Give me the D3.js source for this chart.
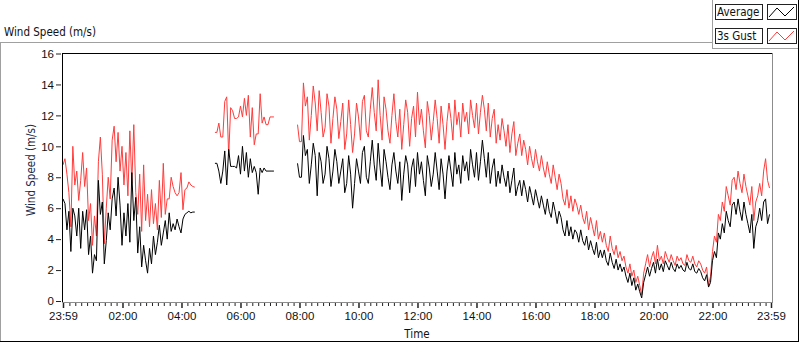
<!DOCTYPE html>
<html>
<head>
<meta charset="utf-8">
<script src="https://cdn.jsdelivr.net/npm/d3@7"></script>
<style>
  body { margin: 0; background: #fff; }
  svg { display: block; font-family: "DejaVu Sans Condensed", "Liberation Sans", sans-serif; }
</style>
</head>
<body>
<script>
// minutes after 23:59 of the previous day, 4-minute samples per segment
let seg1Start = 0, seg2Start = 309, seg3Start = 477;
let step = 4;

let gust1 = [8.8, 9.2, 8.2, 7.0, 4.8, 10.0, 7.5, 8.4, 6.5, 7.8,
    9.6, 7.4, 8.6, 5.2, 6.3, 3.6, 5.5, 4.2, 9.0, 10.6,
    8.2, 3.7, 6.0, 8.0, 6.6, 10.4, 11.3, 9.0, 10.9, 8.4,
    10.0, 7.5, 9.6, 6.8, 11.0, 7.6, 11.4, 7.0, 5.6, 8.2,
    4.5, 8.8, 5.2, 6.9, 4.8, 7.2, 5.0, 6.3, 4.6, 7.8,
    5.4, 8.9, 5.6, 6.6, 6.6, 8.0, 7.4, 7.0, 6.8, 7.0,
    8.3, 5.9, 7.2, 7.3, 7.7, 7.5, 7.4, 7.36];
let avg1 = [6.6, 6.3, 4.6, 5.8, 3.2, 6.0, 5.5, 4.2, 6.0, 3.4,
    5.8, 4.6, 5.9, 3.0, 4.2, 1.8, 3.0, 2.6, 7.8, 5.6,
    6.4, 2.4, 3.9, 5.7, 4.6, 6.6, 7.3, 5.5, 8.0, 6.2,
    3.6, 5.7, 4.2, 6.3, 3.8, 8.3, 5.2, 6.7, 3.1, 4.8,
    2.2, 3.6, 2.6, 1.8, 3.4, 2.4, 4.2, 3.0, 3.8, 4.9,
    3.6, 4.4, 5.2, 4.0, 5.7, 4.5, 5.0, 4.6, 5.3, 4.8,
    4.4, 5.3, 5.6, 5.7, 5.8, 5.7, 5.75, 5.75];

let gust2 = [10.9, 10.9, 11.5, 10.6, 10.6, 12.9, 13.2, 9.4, 12.5, 12.3,
    11.8, 11.8, 11.9, 12.6, 11.9, 13.1, 12.0, 13.3, 10.6, 12.5,
    10.1, 10.8, 10.8, 13.4, 11.5, 11.9, 11.4, 11.4, 11.9, 11.9, 11.9];
let avg2 = [8.9, 8.9, 8.4, 7.6, 8.4, 9.7, 7.5, 9.8, 8.7, 8.7,
    8.7, 8.6, 9.4, 8.2, 10.0, 8.4, 9.6, 8.0, 9.2, 8.3,
    8.7, 8.3, 6.9, 8.6, 8.3, 8.6, 8.4, 8.4, 8.4, 8.4, 8.4];

let gust3 = [11.4, 10.3, 10.3, 14.1, 12.6, 13.2, 10.4, 12.0, 13.9, 12.8, 11.0, 13.6,
    12.2, 10.6, 11.2, 13.4, 12.6, 10.2, 11.8, 13.2, 12.4, 10.5,
    11.6, 12.8, 9.8, 10.8, 13.0, 11.4, 9.6, 10.8, 12.8, 11.9,
    10.4, 12.9, 13.3, 11.0, 10.6, 12.4, 13.8, 12.2, 11.0, 14.3,
    12.0, 10.4, 13.2, 12.4, 11.0, 10.2, 12.0, 13.4, 11.6, 10.6, 12.4,
    9.8, 11.4, 13.0, 12.2, 10.0, 11.8, 12.6, 10.6, 13.5, 11.4,
    12.4, 11.0, 9.9, 12.9, 12.0, 10.4, 11.6, 13.0, 11.8, 10.2,
    12.6, 11.4, 9.8, 11.6, 12.8, 11.8, 10.4, 13.0, 11.4, 12.2,
    10.6, 12.8, 11.6, 12.2, 10.8, 13.0, 12.0, 11.2, 12.8, 10.8,
    12.2, 13.3, 12.4, 11.0, 12.8, 10.6, 11.8, 12.4, 10.2, 11.4, 10.4,
    11.8, 11.0, 10.0, 11.4, 9.6, 10.8, 11.6, 9.4, 10.2, 10.8,
    9.4, 10.4, 9.8, 8.8, 10.0, 9.2, 8.6, 9.8, 9.0, 8.4,
    9.4, 8.6, 8.0, 9.0, 8.2, 7.6, 8.8, 8.0, 7.2, 8.2,
    7.6, 6.6, 6.2, 7.2, 6.0, 6.8, 5.8, 6.6, 6.2, 5.6,
    6.2, 5.4, 5.0, 5.8, 4.6, 5.4, 4.8, 4.2, 5.2, 4.0, 4.5,
    3.8, 4.4, 3.6, 3.2, 4.2, 3.4, 3.0, 3.6, 2.8, 3.2,
    2.6, 2.9, 2.2, 1.8, 2.4, 1.6, 2.0, 1.2, 1.6, 1.0,
    0.4, 1.8, 2.4, 3.0, 2.2, 2.8, 3.2, 2.4, 3.6, 2.6,
    2.9, 2.4, 3.2, 2.8, 2.5, 3.0, 2.6, 2.3, 2.9, 2.6,
    2.8, 2.4, 2.3, 3.0, 2.6, 2.5, 2.9, 2.4, 2.2, 2.6,
    2.4, 2.0, 1.8, 2.2, 1.0, 1.6,
    3.2, 4.2, 3.8, 5.6, 5.2,
    6.4, 5.8, 7.4, 6.8, 6.2, 7.8, 8.0,
    7.2, 8.4, 7.6, 7.0, 8.2, 7.4, 6.8,
    6.2, 7.4, 5.2, 6.4, 6.8,
    7.6, 6.8, 8.4, 9.2,
    7.8, 7.3];
let avg3 = [8.9, 8.0, 8.0, 10.7, 9.4, 9.8, 7.6, 8.8, 10.2, 9.4, 6.8, 9.6,
    9.0, 7.6, 8.2, 10.0, 9.2, 7.4, 8.4, 9.8, 9.0, 7.6,
    8.4, 9.2, 7.0, 7.6, 9.4, 8.2, 6.0, 7.6, 9.2, 8.4,
    7.6, 9.6, 10.0, 8.0, 7.6, 9.0, 10.4, 8.8, 7.8, 10.2,
    8.6, 7.4, 9.8, 9.0, 8.0, 7.2, 8.8, 9.6, 8.4, 7.6, 9.0,
    6.5, 8.2, 9.4, 8.8, 7.0, 8.6, 9.2, 7.4, 9.6, 8.2,
    9.0, 7.8, 6.8, 9.4, 8.6, 7.4, 8.2, 9.6, 8.4, 7.2,
    9.2, 8.2, 6.6, 8.4, 9.4, 8.4, 7.4, 9.6, 8.2, 8.8,
    7.6, 9.4, 8.4, 9.0, 7.8, 9.8, 8.8, 8.0, 9.6, 7.8,
    9.0, 10.4, 9.2, 8.0, 9.6, 7.6, 8.6, 9.2, 7.4, 8.4, 7.6,
    8.8, 8.0, 7.4, 8.4, 7.0, 7.8, 8.6, 6.8, 7.4, 7.8,
    6.8, 7.8, 7.2, 6.4, 7.4, 6.8, 6.2, 7.2, 6.6, 6.0,
    6.8, 6.2, 5.6, 6.6, 5.8, 5.4, 6.4, 5.8, 5.0, 5.8,
    5.4, 4.6, 4.2, 5.2, 4.2, 4.8, 4.0, 4.6, 4.4, 3.8,
    4.6, 3.9, 3.6, 4.2, 3.3, 3.9, 3.4, 3.0, 3.8, 2.8, 3.3,
    2.8, 3.3, 2.6, 2.3, 3.1, 2.5, 2.1, 2.7, 2.0, 2.4,
    1.9, 2.2, 1.6, 1.2, 1.8, 1.0, 1.5, 0.7, 1.1, 0.6,
    0.2, 1.2, 1.7, 2.2, 1.6, 2.1, 2.5, 1.8, 2.7, 2.0,
    2.4, 1.9, 2.6, 2.3, 2.0, 2.5, 2.1, 1.9, 2.4, 2.1,
    2.3, 2.0, 1.9, 2.5, 2.1, 2.0, 2.4, 1.9, 1.8, 2.1,
    1.9, 1.5, 1.3, 1.7, 0.9, 1.2,
    2.6, 3.2, 2.8, 4.4, 4.0,
    5.0, 4.4, 5.8, 5.2, 4.8, 6.2, 6.4,
    5.6, 6.6, 5.8, 5.2, 6.4, 5.6, 5.0,
    4.4, 5.6, 3.4, 4.8, 5.2,
    6.0, 5.2, 6.4, 6.6,
    5.0, 5.6];

let yTicks = [0, 2, 4, 6, 8, 10, 12, 14, 16];
let xTicks = [0, 121, 241, 361, 481, 601, 721, 841, 961, 1081, 1201, 1321, 1440];
let xTickLabels = ["23:59", "02:00", "04:00", "06:00", "08:00", "10:00", "12:00",
    "14:00", "16:00", "18:00", "20:00", "22:00", "23:59"];
let seriesNames = ["Average", "3s Gust"];
let seriesColors = ["#000000", "#ff3c3c"];

let width = 800, height = 342;
let plot = { left: 62, right: 772, top: 53, bottom: 302 };

let svg = d3.select("body")
    .append("svg")
    .attr("width", width)
    .attr("height", height);

let x = d3.scaleLinear().domain([0, 1440]).range([63, 771]);
let y = d3.scaleLinear().domain([0, 16]).range([301, 53.5]);

// outer panel frame
svg.append("line").attr("x1", 0).attr("x2", 712).attr("y1", 42.5).attr("y2", 42.5).attr("stroke", "#a0a0a0");
svg.append("line").attr("x1", 0.5).attr("x2", 0.5).attr("y1", 42.5).attr("y2", 341).attr("stroke", "#a0a0a0");
svg.append("line").attr("x1", 0).attr("x2", 799).attr("y1", 341.5).attr("y2", 341.5).attr("stroke", "#000");
svg.append("line").attr("x1", 798.5).attr("x2", 798.5).attr("y1", 0).attr("y2", 342).attr("stroke", "#000");
svg.append("line").attr("x1", 712.5).attr("x2", 712.5).attr("y1", 0).attr("y2", 49).attr("stroke", "#a0a0a0");
svg.append("line").attr("x1", 712).attr("x2", 798).attr("y1", 48.5).attr("y2", 48.5).attr("stroke", "#a0a0a0");

svg.append("text")
    .attr("x", 4).attr("y", 36)
    .style("font-size", "11.5px")
    .attr("fill", "#111")
    .text("Wind Speed (m/s)");

// data lines
let line = d3.line()
    .x(d => x(d.t))
    .y(d => y(d.v));
let toPoints = (arr, start) => arr.map((v, i) => ({ t: start + i * step, v: v }));
let gustSegs = [toPoints(gust1, seg1Start), toPoints(gust2, seg2Start), toPoints(gust3, seg3Start)];
let avgSegs = [toPoints(avg1, seg1Start), toPoints(avg2, seg2Start), toPoints(avg3, seg3Start)];

let g = svg.append("g");
g.selectAll(".gust")
    .data(gustSegs)
    .enter()
    .append("path")
    .attr("class", "gust")
    .attr("d", line)
    .attr("fill", "none")
    .attr("stroke", seriesColors[1])
    .attr("stroke-width", 1);
g.selectAll(".avg")
    .data(avgSegs)
    .enter()
    .append("path")
    .attr("class", "avg")
    .attr("d", line)
    .attr("fill", "none")
    .attr("stroke", seriesColors[0])
    .attr("stroke-width", 1);

// plot frame: black left/top, gray right/bottom
svg.append("line").attr("x1", plot.left + 0.5).attr("x2", plot.left + 0.5).attr("y1", plot.top).attr("y2", plot.bottom).attr("stroke", "#000");
svg.append("line").attr("x1", plot.left).attr("x2", plot.right).attr("y1", plot.top + 0.5).attr("y2", plot.top + 0.5).attr("stroke", "#000");
svg.append("line").attr("x1", plot.right + 0.5).attr("x2", plot.right + 0.5).attr("y1", plot.top).attr("y2", plot.bottom + 1).attr("stroke", "#8c8c8c");
svg.append("line").attr("x1", plot.left).attr("x2", plot.right + 1).attr("y1", plot.bottom + 0.5).attr("y2", plot.bottom + 0.5).attr("stroke", "#8c8c8c");

// y axis
let yAxis = svg.append("g")
    .attr("transform", "translate(61,0)")
    .call(d3.axisLeft(y).tickValues(yTicks).tickSize(5).tickPadding(2).tickSizeOuter(0));
yAxis.select(".domain").remove();
yAxis.selectAll("text").style("font-size", "11.5px").attr("fill", "#111");
yAxis.selectAll("line").attr("stroke", "#222");

svg.append("text")
    .attr("transform", "translate(35,170) rotate(-90)")
    .attr("text-anchor", "middle")
    .style("font-size", "11.5px")
    .attr("fill", "#1a2a48")
    .text("Wind Speed (m/s)");

// x axis, minor ticks every 12 minutes
let minor = d3.range(13, 1440, 12).filter(t => xTicks.every(m => Math.abs(m - t) > 4));
let xMinor = svg.append("g")
    .attr("transform", "translate(0," + (plot.bottom + 1) + ")")
    .call(d3.axisBottom(x).tickValues(minor).tickSize(3).tickFormat(""));
xMinor.select(".domain").remove();
xMinor.selectAll("line").attr("stroke", "#222");

let xAxis = svg.append("g")
    .attr("transform", "translate(0," + (plot.bottom + 1) + ")")
    .call(d3.axisBottom(x).tickValues(xTicks).tickSize(5).tickPadding(4)
        .tickFormat((d, i) => xTickLabels[i]));
xAxis.select(".domain").remove();
xAxis.selectAll("text").style("font-size", "11.5px").attr("fill", "#111");
xAxis.selectAll("line").attr("stroke", "#222").attr("stroke-width", 1.5);

svg.append("text")
    .attr("x", 417).attr("y", 338)
    .attr("text-anchor", "middle")
    .style("font-size", "11.5px")
    .attr("fill", "#111")
    .text("Time");

// legend
let leg = svg.append("g")
    .selectAll("g")
    .data(seriesNames)
    .enter()
    .append("g")
    .attr("transform", (d, i) => "translate(0," + (i * 24) + ")");
leg.append("rect")
    .attr("x", 715.5).attr("y", 4.5).attr("width", 47).attr("height", 15)
    .attr("fill", "#fff").attr("stroke", "#222");
leg.append("text")
    .attr("x", 717).attr("y", 16)
    .style("font-size", "11.5px")
    .attr("fill", "#111")
    .text(d => d);
leg.append("rect")
    .attr("x", 767.5).attr("y", 4.5).attr("width", 29).attr("height", 15)
    .attr("fill", "#fff").attr("stroke", "#222");
leg.append("polyline")
    .attr("points", "769,17 777,8 785,16 794,7")
    .attr("fill", "none")
    .attr("stroke", (d, i) => seriesColors[i]);
</script>
</body>
</html>
